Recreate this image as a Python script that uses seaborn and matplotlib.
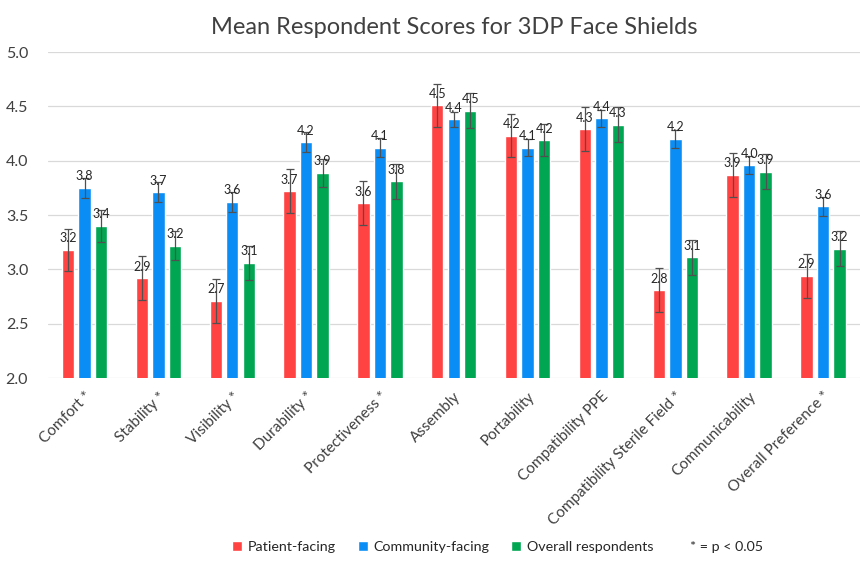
import matplotlib
matplotlib.use("Agg")
import matplotlib.pyplot as plt
from matplotlib.patches import Patch
import seaborn as sns
import pandas as pd

categories = ["Comfort *", "Stability *", "Visibility *", "Durability *", "Protectiveness *",
              "Assembly", "Portability", "Compatibility PPE", "Compatibility Sterile Field *",
              "Communicability", "Overall Preference *"]
groups = ["Patient-facing", "Community-facing", "Overall respondents"]

patient = [3.18, 2.92, 2.71, 3.72, 3.61, 4.51, 4.23, 4.29, 2.81, 3.87, 2.94]
community = [3.75, 3.71, 3.62, 4.17, 4.12, 4.38, 4.12, 4.39, 4.20, 3.96, 3.58]
overall = [3.40, 3.22, 3.06, 3.89, 3.81, 4.46, 4.19, 4.33, 3.11, 3.90, 3.19]

patient_err = [0.19, 0.20, 0.20, 0.20, 0.20, 0.20, 0.20, 0.20, 0.20, 0.20, 0.20]
community_err = [0.09, 0.09, 0.09, 0.09, 0.09, 0.07, 0.08, 0.08, 0.08, 0.08, 0.09]
overall_err = [0.15, 0.13, 0.16, 0.13, 0.16, 0.16, 0.15, 0.16, 0.16, 0.16, 0.16]

colors = ["#FF4343", "#0A8EF5", "#00A651"]

df = pd.DataFrame({
    "category": categories * 3,
    "group": [g for g in groups for _ in categories],
    "score": patient + community + overall,
})
errs = [patient_err, community_err, overall_err]

sns.set_theme(style="whitegrid")
plt.rcParams["font.family"] = ["Lato", "DejaVu Sans"]

fig, ax = plt.subplots(figsize=(8.66, 5.66), dpi=100)
fig.subplots_adjust(left=0.055, right=0.993, bottom=0.332, top=0.908)

sns.barplot(data=df, x="category", y="score", hue="group", palette=colors, saturation=1,
            width=0.67, gap=0.25, errorbar=None, ax=ax, legend=False)

# error bars and value labels on each bar
for cont, err in zip(ax.containers, errs):
    for bar, e in zip(cont, err):
        xc = bar.get_x() + bar.get_width() / 2
        h = bar.get_height()
        ax.errorbar(xc, h, yerr=e, fmt="none", ecolor="#505050", elinewidth=0.9,
                    capsize=3, capthick=0.9, zorder=4)
        ax.annotate(f"{h:.1f}", (xc, h), xytext=(0, 4), textcoords="offset points",
                    ha="center", va="bottom", fontsize=9, color="#262626", zorder=5)

ax.set_ylim(2.0, 5.0)
ax.set_yticks([2.0, 2.5, 3.0, 3.5, 4.0, 4.5, 5.0])
ax.set_yticklabels([f"{v:.1f}" for v in [2.0, 2.5, 3.0, 3.5, 4.0, 4.5, 5.0]])
ax.set_xlim(-0.5, len(categories) - 0.5)
ax.grid(axis="x", visible=False)
ax.grid(axis="y", color="#D9D9D9", linewidth=0.9)
for s in ax.spines.values():
    s.set_visible(False)
ax.set_xlabel("")
ax.set_ylabel("")
ax.tick_params(axis="y", labelsize=11.5, colors="#404040", pad=8)
ax.tick_params(axis="x", labelsize=11, colors="#404040", pad=2)
plt.setp(ax.get_xticklabels(), rotation=45, ha="right", rotation_mode="anchor")

ax.set_title("Mean Respondent Scores for 3DP Face Shields", fontsize=17, color="#404040", pad=13)

handles = [Patch(facecolor=c) for c in colors] + [Patch(facecolor="none", edgecolor="none")]
labels = groups + ["* = p < 0.05"]
fig.legend(handles, labels, loc="lower center", bbox_to_anchor=(0.575, 0.0), ncol=4,
           frameon=False, fontsize=10.3, handlelength=0.7, handleheight=0.7,
           handletextpad=0.4, columnspacing=1.5, labelcolor="#262626")

fig.savefig("out.png", dpi=100)
